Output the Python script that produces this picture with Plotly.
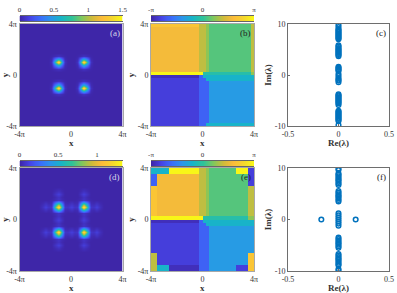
import plotly.graph_objects as go

W, H = 397, 293
FONT = "Liberation Serif"
TXT = "#333333"
PI = 3.14159265

PARULA = [
    [0.0, "#3e26a8"], [0.1, "#4743e6"], [0.2, "#3a6ffb"], [0.3, "#2a96ea"],
    [0.4, "#17b4c8"], [0.5, "#2ec39a"], [0.6, "#7fc85c"], [0.7, "#cfbb3a"],
    [0.8, "#fdbb3a"], [0.9, "#f5d92c"], [1.0, "#f9fb15"],
]

# amplitude around a main spot (panel a), 7x7 samples at pi/4 spacing
SPOT_A = [
    [0.00, 0.00, 0.00, 0.00, 0.00, 0.00, 0.00],
    [0.00, 0.01, 0.03, 0.06, 0.03, 0.01, 0.00],
    [0.00, 0.03, 0.30, 0.58, 0.30, 0.03, 0.00],
    [0.00, 0.06, 0.58, 1.50, 0.58, 0.06, 0.00],
    [0.00, 0.03, 0.30, 0.58, 0.30, 0.03, 0.00],
    [0.00, 0.01, 0.03, 0.06, 0.03, 0.01, 0.00],
    [0.00, 0.00, 0.00, 0.00, 0.00, 0.00, 0.00],
]
SPOT_D = [
    [0.00, 0.00, 0.00, 0.01, 0.00, 0.00, 0.00],
    [0.00, 0.01, 0.03, 0.07, 0.03, 0.01, 0.00],
    [0.00, 0.03, 0.30, 0.58, 0.30, 0.03, 0.00],
    [0.01, 0.07, 0.58, 1.33, 0.58, 0.07, 0.01],
    [0.00, 0.03, 0.30, 0.58, 0.30, 0.03, 0.00],
    [0.00, 0.01, 0.03, 0.07, 0.03, 0.01, 0.00],
    [0.00, 0.00, 0.00, 0.01, 0.00, 0.00, 0.00],
]
SATELLITE_D = [
    [0.02, 0.05, 0.02],
    [0.05, 0.11, 0.05],
    [0.02, 0.05, 0.02],
]
# grid indices on the 33-point pi/4 lattice
SPOTS = [(12, 12), (12, 20), (20, 12), (20, 20)]
SATS_D = [(12, 8), (12, 16), (12, 24), (20, 8), (20, 16), (20, 24),
          (8, 12), (16, 12), (24, 12), (8, 20), (16, 20), (24, 20)]
AXIS_GRID = [(i - 16) * PI / 4 for i in range(33)]

PHASE_LEVELS = {
    "A": -2.95, "B": -2.62, "C": -2.07, "D": -1.15, "E": -0.65, "L": -0.20,
    "F": 0.30, "G": 0.75, "H": 1.13, "I": 1.76, "K": 2.10, "J": 3.05,
}
# run-length rows, top to bottom, 34 cells wide
PHASE_B = [
    (1, "K16 H2 G1 F14 H1"),
    (15, "I16 H2 G1 F14 H1"),
    (1, "J17 L16 G1"),
    (1, "A16 C1 E17"),
    (1, "B16 C2 E16"),
    (14, "B16 C3 D15"),
    (1, "B16 C2 E16"),
]
PHASE_E = [
    (2, "E6 J10 H2 G1 F9 J4 B2"),
    (4, "C2 I14 H2 G1 F13 B2"),
    (10, "K2 I14 H2 G1 F13 H2"),
    (1, "J17 L15 G2"),
    (1, "A16 C1 E17"),
    (1, "B16 C2 E16"),
    (9, "B16 C3 D15"),
    (4, "H2 B14 C3 D13 K2"),
    (2, "H2 E4 A10 C3 D9 B4 K2"),
]

EIG_C_IM = [9.8, 9.4, 9.0, 8.8, 8.6, 8.4, 8.2, 8.0, 7.8, 7.6, 7.4, 7.2, 7.0,
            5.8, 5.6, 5.3, 5.1, 4.9, 4.7, 4.5, 4.3, 4.1, 3.9, 3.7,
            1.6, 1.4, 1.2, 1.0, 0.8, 0.2, -0.2, -0.6, -0.9, -1.1, -1.4,
            -3.8, -4.0, -4.2, -4.4, -4.6, -4.8, -5.0, -5.2, -5.4, -5.6, -5.9,
            -7.0, -7.2, -7.4, -7.6, -7.8, -8.0, -8.2, -8.4, -8.6, -8.8, -9.0, -9.8]
EIG_C_RE = [0.0] * len(EIG_C_IM)
EIG_F_IM = [9.9, 9.6, 8.9, 8.7, 8.4, 8.1, 7.8, 7.6, 7.3, 7.0, 6.7,
            5.5, 5.2, 4.9, 4.6, 4.4, 4.1, 3.8, 3.5,
            1.2, 0.8, 0.4, 0.0, -0.4, -0.8, -1.2,
            -3.5, -3.8, -4.1, -4.4, -4.6, -4.9, -5.2, -5.5,
            -6.7, -7.0, -7.3, -7.6, -7.8, -8.1, -8.4, -8.7, -8.9, -9.6, -9.9]
EIG_F_RE = [0.0] * len(EIG_F_IM)
EIG_F_UNSTABLE_RE = [-0.17, 0.17]
EIG_F_UNSTABLE_IM = [0.0, 0.0]

PANEL_X = [(19.5, 122.5), (151, 254), (288, 389)]
ROW_Y = [(24, 126), (168, 271)]
CBAR_Y = [(16, 21), (161, 166)]
LABELS = ["(a)", "(b)", "(c)", "(d)", "(e)", "(f)"]
CBAR_STEPS = list(range(101))
MARK = dict(symbol="circle-open", size=4.6, color="#0072BD", line=dict(width=1.5))


def stamp(grid, centre, patch):
    half = len(patch) // 2
    for r, row in enumerate(patch):
        for c, v in enumerate(row):
            grid[centre[0] - half + r][centre[1] - half + c] += v


def amp(main, sats=()):
    g = [[0.0] * 33 for _ in range(33)]
    for s in SPOTS:
        stamp(g, s, main)
    for s in sats:
        stamp(g, s, SATELLITE_D)
    return g


def phase(rows):
    out = []
    for count, spec in rows:
        row = []
        for tok in spec.split():
            row += [PHASE_LEVELS[tok[0]]] * int(tok[1:])
        out += [row] * count
    return out[::-1]


CELL_AXIS = [(-4 + (i + 0.5) * 8 / 34) * PI for i in range(34)]

fig = go.Figure()


def dom(idx, row):
    x0, x1 = PANEL_X[idx]
    y0, y1 = ROW_Y[row]
    return [x0 / W, x1 / W], [1 - y1 / H, 1 - y0 / H]


def axes(n, idx, row, kind):
    dx, dy = dom(idx, row)
    line = "#a8a8a8" if kind == "map" else "#6e6e6e"
    base = dict(showgrid=False, zeroline=False, showline=True, linecolor=line,
                linewidth=1, mirror=True, automargin=False,
                tickfont=dict(family=FONT, size=8, color=TXT),
                ticklen=2 if kind != "map" else 0, ticks="inside" if kind != "map" else "",
                tickcolor=line)
    if kind == "map":
        xa = dict(range=[-4 * PI, 4 * PI], tickvals=[-4 * PI, 0, 4 * PI], ticktext=["-4π", "0", "4π"])
        ya = dict(range=[-4 * PI, 4 * PI], tickvals=[-4 * PI, 0, 4 * PI], ticktext=["-4π", "0", "4π"])
        xt, yt = "<b>x</b>", "<b>y</b>"
    else:
        xa = dict(range=[-0.5, 0.5], tickvals=[-0.5, 0, 0.5], ticktext=["-0.5", "0", "0.5"])
        ya = dict(range=[-10, 10], tickvals=[-10, 0, 10], ticktext=["-10", "0", "10"])
        xt, yt = "<b>Re(λ)</b>", "<b>Im(λ)</b>"
    tf = dict(family=FONT, size=9, color=TXT)
    fig.update_layout({
        f"xaxis{n}": dict(base, domain=dx, anchor=f"y{n}", **xa),
        f"yaxis{n}": dict(base, domain=dy, anchor=f"x{n}", title=dict(text=yt, font=tf, standoff=1), **ya),
    })
    fig.add_annotation(text=xt, xref="paper", yref="paper",
                       x=sum(dx) / 2, y=1 - (ROW_Y[row][1] + 16.5) / H,
                       xanchor="center", yanchor="middle", showarrow=False, font=tf)


def cbar(n, idx, row, zmin, zmax, vals, text):
    x0, x1 = PANEL_X[idx]
    y0, y1 = CBAR_Y[row]
    xs = [zmin + (zmax - zmin) * s / 100 for s in CBAR_STEPS]
    fig.add_trace(go.Heatmap(z=[xs], x=xs, y=[0], zmin=zmin, zmax=zmax, colorscale=PARULA,
                             showscale=False, zsmooth="best", hoverinfo="skip",
                             xaxis=f"x{n}", yaxis=f"y{n}"))
    fig.update_layout({
        f"xaxis{n}": dict(domain=[x0 / W, x1 / W], anchor=f"y{n}", side="top", range=[zmin, zmax],
                          tickvals=vals, ticktext=text, ticks="", showgrid=False, zeroline=False,
                          automargin=False, showline=True, mirror=True, linecolor="#666666", linewidth=0.5,
                          tickfont=dict(family=FONT, size=7, color=TXT)),
        f"yaxis{n}": dict(domain=[1 - y1 / H, 1 - y0 / H], anchor=f"x{n}", range=[-0.5, 0.5],
                          showticklabels=False, ticks="", showgrid=False, zeroline=False, automargin=False),
    })


def heat(n, z, x, zmin, zmax, smooth):
    fig.add_trace(go.Heatmap(z=z, x=x, y=x, zmin=zmin, zmax=zmax, colorscale=PARULA,
                             zsmooth=smooth, showscale=False, hoverinfo="skip",
                             xaxis=f"x{n}", yaxis=f"y{n}"))


axes("", 0, 0, "map")
heat("", amp(SPOT_A), AXIS_GRID, 0, 1.5, "best")
axes(2, 1, 0, "map")
heat(2, phase(PHASE_B), CELL_AXIS, -PI, PI, False)
axes(3, 2, 0, "eig")
fig.add_trace(go.Scatter(x=EIG_C_RE, y=EIG_C_IM, mode="markers", xaxis="x3", yaxis="y3",
                         hoverinfo="skip", marker=MARK))
axes(4, 0, 1, "map")
heat(4, amp(SPOT_D, SATS_D), AXIS_GRID, 0, 1.33, "best")
axes(5, 1, 1, "map")
heat(5, phase(PHASE_E), CELL_AXIS, -PI, PI, False)
axes(6, 2, 1, "eig")
fig.add_trace(go.Scatter(x=EIG_F_RE, y=EIG_F_IM, mode="markers", xaxis="x6", yaxis="y6",
                         hoverinfo="skip", marker=MARK))
fig.add_trace(go.Scatter(x=EIG_F_UNSTABLE_RE, y=EIG_F_UNSTABLE_IM, mode="markers", xaxis="x6", yaxis="y6",
                         hoverinfo="skip", marker=MARK))

cbar(7, 0, 0, 0, 1.5, [0, 0.5, 1, 1.5], ["0", "0.5", "1", "1.5"])
cbar(8, 1, 0, -PI, PI, [-PI, 0, PI], ["-π", "0", "π"])
cbar(9, 0, 1, 0, 1.33, [0, 0.5, 1], ["0", "0.5", "1"])
cbar(10, 1, 1, -PI, PI, [-PI, 0, PI], ["-π", "0", "π"])

suffix = ["", "2", "3", "4", "5", "6"]
for i, lab in enumerate(LABELS):
    col = "#d9d9e8" if lab in ("(a)", "(d)") else "#222222"
    fig.add_annotation(text=lab, xref=f"x{suffix[i]} domain", yref=f"y{suffix[i]} domain",
                       x=0.985, y=0.97, xanchor="right", yanchor="top", showarrow=False,
                       font=dict(family=FONT, size=9, color=col), borderpad=0)

fig.update_layout(width=W, height=H, margin=dict(l=0, r=0, t=0, b=0, autoexpand=False), showlegend=False,
                  paper_bgcolor="white", plot_bgcolor="white")
fig.write_html("out.html", config=dict(displayModeBar=False),
               post_script="document.body.style.margin='0';")
